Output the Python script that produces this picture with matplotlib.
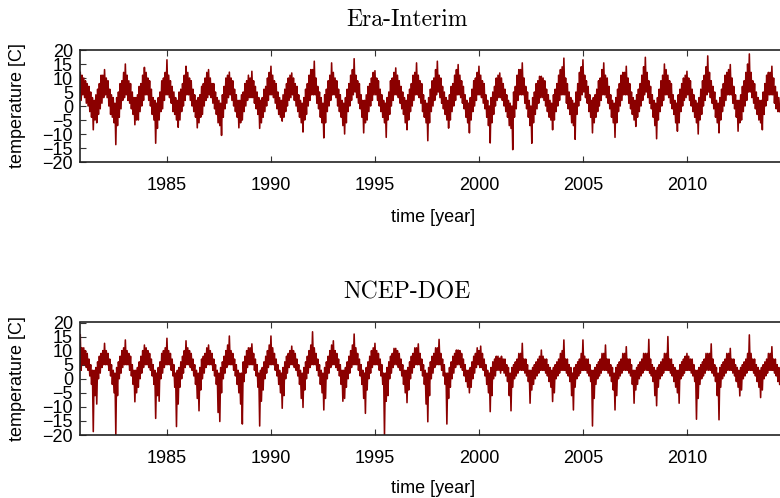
import numpy as np
import matplotlib.pyplot as plt

# monthly upper / lower envelope of the daily series, Nov 1980 .. Jun 2014
era_hi = [
    12, 11,                                            # 1980 Nov-Dec
    10, 9, 8, 7, 5, 3, 2, 4, 6, 8, 11, 11,             # 1981
    13, 10, 9, 6, 4, 3, 1, 3, 5, 8, 9, 12,             # 1982
    15, 11, 9, 8, 5, 3, 3, 4, 7, 8, 11, 13.8,          # 1983
    12, 10, 9, 6, 3, 2, 1, 3, 5, 9, 10, 12,            # 1984
    16.5, 11, 9, 7, 5, 3, 2, 5, 6, 8, 11, 14.2,        # 1985
    12, 10, 9, 6, 4, 2, 3, 4, 7, 8, 10, 12,            # 1986
    13, 10, 8, 8, 5, 3, 2, 1, 4, 7, 10, 11,            # 1987
    12.1, 10, 9, 6, 4, 2, 2, 4, 5, 8, 9, 11,           # 1988
    10, 12.4, 9, 7, 5, 3, 2, 3, 6, 7, 10, 12,          # 1989
    14.2, 11, 9, 8, 5, 3, 2, 4, 6, 8, 10, 11,          # 1990
    11.8, 10, 8, 7, 4, 2, 1, 3, 6, 8, 11, 13,          # 1991
    13, 16, 10, 7, 5, 3, 1, 4, 6, 9, 11, 15.4,         # 1992
    12, 10, 9, 6, 4, 2, 1, 3, 6, 8, 11, 13,            # 1993
    16.9, 11, 9, 8, 4, 2, 2, 4, 7, 8, 10, 12,          # 1994
    12.6, 10, 9, 6, 4, 2, 1, 3, 5, 9, 10, 12,          # 1995
    13.6, 11, 9, 7, 5, 3, 2, 4, 6, 8, 11, 12,          # 1996
    15.4, 11, 9, 8, 4, 2, 1, 3, 6, 9, 10, 13,          # 1997
    16, 11, 10, 7, 5, 3, 2, 4, 7, 8, 11, 13,           # 1998
    14.8, 11, 9, 7, 4, 2, 1, 3, 6, 9, 10, 12,          # 1999
    14.2, 11, 9, 8, 4, 2, 0, 3, 5, 7, 10, 11,          # 2000
    11.8, 10, 8, 6, 4, 2, 1, 0, 5, 7, 11, 13,          # 2001
    13, 15.4, 10, 7, 5, 2, 0, 3, 5, 8, 9, 10.6,        # 2002
    10.6, 10, 9, 6, 4, 2, 1, 4, 6, 8, 11, 13,          # 2003
    14, 17.1, 10, 8, 5, 3, 2, 1, 5, 8, 12, 14,         # 2004
    16.5, 11, 9, 7, 4, 2, 3, 4, 6, 9, 10, 13,          # 2005
    15.4, 11, 10, 7, 4, 2, 1, 3, 6, 8, 11, 12,         # 2006
    12, 14.2, 10, 8, 5, 3, 2, 4, 6, 8, 11, 14,         # 2007
    17.4, 12, 9, 7, 4, 2, 1, 3, 6, 9, 11, 15,          # 2008
    13, 11, 9, 8, 4, 2, 1, 4, 6, 8, 10, 11,            # 2009
    12.4, 10, 9, 6, 4, 2, 1, 3, 6, 9, 11, 14,          # 2010
    17.9, 12, 9, 7, 5, 2, 1, 3, 6, 8, 11, 12,          # 2011
    13, 14.8, 10, 7, 4, 2, 2, 4, 7, 9, 12, 15,         # 2012
    18.6, 12, 9, 8, 5, 3, 2, 2, 5, 8, 11, 12,          # 2013
    12, 14.2, 10, 7, 5, 3,                             # 2014 Jan-Jun
]
era_lo = [
    2, 4,
    3, 1, 0, -2, -4, -8.5, -5, -6, -3, -1, 1, 3,
    4, 3, 0, -3, -4, -6, -13.8, -7, -4, -1, 2, 3,
    4, 2, 1, -1, -3, -6.7, -5, -5, -2, 0, 2, 4,
    4, 2, 0, -3, -5, -13.3, -8, -5, -2, -1, 2, 4,
    4, 3, 1, -2, -3, -5, -7.6, -5, -2, 0, 2, 4,
    4, 2, 0, -2, -4, -7.8, -6, -4, -3, 0, 2, 3,
    4, 3, 1, -1, -3, -6, -7, -10.5, -4, -1, 1, 3,
    4, 2, 0, -2, -4, -7.8, -6, -5, -2, 0, 2, 3,
    3, 3, 1, -1, -3, -8, -6, -4, -2, 0, 2, 4,
    4, 3, 1, -1, -3, -4, -5.4, -4, -2, 0, 2, 3,
    4, 2, 0, -2, -4, -6, -9.3, -5, -3, 0, 2, 4,
    4, 4, 1, -1, -4, -6, -11.4, -6, -2, 0, 2, 4,
    4, 3, 0, -2, -4, -7, -10, -6, -2, 0, 2, 4,
    5, 3, 1, -1, -4, -9.6, -6, -5, -2, 0, 2, 4,
    4, 2, 0, -2, -4, -6, -11.2, -5, -3, 0, 2, 4,
    4, 3, 1, -1, -3, -6, -8.5, -5, -2, 0, 2, 4,
    4, 3, 1, -2, -4, -6, -12.4, -6, -2, 0, 2, 4,
    5, 3, 1, -1, -3, -5, -7.9, -5, -2, 0, 2, 4,
    4, 3, 1, -1, -4, -6, -9.6, -5, -2, 0, 2, 4,
    4, 3, 1, -1, -4, -7, -13.2, -6, -3, 0, 2, 3,
    3, 2, 0, -2, -4, -7, -8, -15.6, -4, -1, 2, 4,
    4, 4, 1, -1, -4, -7, -13.3, -6, -3, -1, 1, 3,
    3, 2, 0, -2, -4, -5, -8.5, -5, -2, 0, 2, 4,
    4, 4, 1, -1, -3, -6, -7, -11.9, -3, 0, 2, 4,
    5, 3, 1, -2, -4, -9.6, -6, -4, -2, 0, 2, 4,
    4, 3, 1, -1, -4, -6, -11.2, -6, -2, 0, 2, 4,
    4, 4, 1, -1, -3, -5, -7.3, -4, -2, 0, 2, 4,
    5, 3, 1, -1, -4, -7, -11.7, -5, -2, 0, 2, 4,
    4, 3, 1, -1, -3, -6, -9, -6, -2, 0, 2, 3,
    4, 2, 0, -2, -4, -6, -10, -5, -3, 0, 2, 4,
    5, 3, 1, -1, -4, -6, -9.6, -5, -2, 0, 2, 4,
    4, 4, 1, -1, -4, -9, -6, -5, -2, 0, 2, 5,
    5, 3, 1, -1, -3, -5, -6, -8.5, -3, 0, 2, 4,
    4, 4, 1, -1, -2, -2,
]

ncep_hi = [
    15.6, 11,
    11, 10, 9, 7, 5, 3, 3, 4, 6, 8, 9, 10,
    12.6, 10, 9, 7, 5, 3, 2, 4, 6, 8, 10, 11,
    13.8, 10, 9, 8, 5, 3, 3, 4, 6, 8, 10, 12,
    11, 10, 9, 7, 5, 3, 2, 4, 6, 9, 10, 11,
    14.4, 10, 9, 7, 5, 2, 3, 4, 6, 8, 10, 13.5,
    11, 10, 9, 7, 5, 3, 2, 4, 7, 8, 9, 11,
    12, 10, 9, 7, 5, 3, 2, 4, 6, 8, 10, 12,
    15.2, 10, 9, 7, 5, 3, 2, 2, 6, 8, 10, 11,
    11, 12.4, 9, 7, 5, 2, 3, 4, 6, 8, 10, 12,
    15.2, 11, 9, 7, 5, 3, 2, 4, 6, 8, 9, 10,
    11.6, 10, 9, 7, 5, 3, 2, 4, 6, 8, 10, 12,
    16.7, 11, 9, 7, 5, 3, 2, 4, 6, 8, 10, 12,
    13.5, 10, 9, 7, 5, 3, 3, 4, 6, 8, 10, 12,
    15.9, 11, 9, 7, 5, 3, 2, 4, 6, 8, 10, 11,
    12.6, 10, 9, 7, 5, 2, 2, 4, 6, 8, 9, 10.8,
    10.8, 10, 9, 7, 5, 3, 3, 4, 6, 8, 9, 11,
    11, 12.4, 9, 7, 5, 3, 2, 4, 6, 8, 9, 11,
    11, 14, 9, 7, 5, 2, 2, 4, 6, 8, 9, 10.2,
    10.2, 10, 9, 7, 5, 3, 3, 4, 6, 8, 9, 11,
    10, 11.6, 9, 7, 5, 3, 2, 4, 6, 7, 8, 8,
    7.3, 8, 7, 7, 5, 4, 2, 4, 5, 6, 7, 9,
    9, 12.6, 7, 7, 5, 3, 3, 4, 5, 6, 7, 8,
    10.2, 8, 7, 7, 5, 4, 3, 4, 5, 6, 7, 9,
    10, 13.8, 7, 7, 5, 4, 2, 4, 5, 6, 7, 9,
    13.8, 8, 7, 7, 5, 3, 3, 4, 5, 6, 7, 9,
    9, 12, 7, 7, 5, 4, 2, 4, 5, 6, 7, 9,
    9, 11.4, 7, 7, 5, 3, 3, 4, 5, 6, 7, 9,
    9, 9, 14, 7, 5, 4, 3, 4, 5, 6, 7, 9,
    9, 15, 7, 7, 5, 4, 3, 3, 5, 6, 7, 8,
    9, 8, 7, 7, 5, 3, 3, 4, 5, 6, 7, 9,
    9, 9, 12.4, 7, 5, 4, 2, 4, 5, 6, 7, 9,
    9, 10.8, 7, 7, 5, 4, 3, 4, 5, 6, 7, 9,
    15.6, 9, 7, 7, 5, 4, 3, 4, 5, 6, 7, 9,
    9, 11.4, 7, 7, 5, 4,
]
ncep_lo = [
    3, 5,
    5, 4, 3, 1, -2, -18.8, -6, -9, 0, 2, 4, 5,
    5, 5, 3, 1, -2, -5, -19.8, -6, 0, 2, 4, 5,
    5, 5, 3, 1, -2, -8.2, -5, -3, 0, 2, 4, 5,
    5, 4, 3, 1, -2, -14.1, -6, -8, 0, 2, 4, 5,
    5, 5, 3, 1, -3, -17, -9, -3, 0, 2, 4, 5,
    5, 4, 3, 1, -2, -7, -11.4, -4, 0, 2, 4, 5,
    5, 5, 3, 1, -2, -12, -15.2, -5, 0, 2, 4, 5,
    5, 5, 3, 1, -2, -5, -9, -16.1, -1, 2, 4, 5,
    5, 5, 3, 1, -3, -16.8, -8, -4, 0, 2, 4, 5,
    5, 5, 3, 1, -2, -5, -10.5, -6, 0, 2, 4, 5,
    5, 4, 3, 1, -2, -7, -10.2, -4, 0, 2, 4, 5,
    5, 5, 3, 1, -2, -5, -11.1, -7, 0, 2, 4, 5,
    5, 4, 3, 1, -2, -8, -7, -3, 0, 2, 4, 5,
    5, 5, 3, 1, -2, -7, -12.3, -4, 0, 2, 4, 5,
    5, 5, 3, 1, -2, -20, -8, -6, 0, 2, 4, 5,
    5, 4, 3, 1, -2, -5, -8.5, -4, 0, 2, 4, 5,
    5, 5, 3, 1, -2, -9, -15.3, -6, 0, 2, 4, 5,
    5, 5, 3, 1, -2, -16.1, -7, -3, 0, 2, 4, 5,
    5, 4, 3, 1, -1, -3, -5, -3, 0, 2, 4, 5,
    4, 4, 3, 1, -2, -5, -11.7, -6, 0, 1, 3, 3,
    2, 3, 2, 1, -1, -6, -11.4, -3, 0, 1, 2, 3,
    3, 3, 2, 1, -1, -8.7, -4, -2, 0, 1, 2, 3,
    3, 3, 2, 1, -1, -3, -8.1, -5, 0, 1, 2, 3,
    3, 3, 2, 1, -1, -6, -11.1, -3, 0, 1, 2, 3,
    3, 3, 2, 1, -1, -16.8, -7, -2, 0, 1, 2, 3,
    3, 3, 2, 1, -1, -4, -11.1, -6, 0, 1, 2, 3,
    3, 3, 2, 1, -2, -8.7, -4, -2, 0, 1, 2, 3,
    3, 3, 2, 1, -1, -6, -9.6, -3, 0, 1, 2, 3,
    3, 3, 2, 1, -1, -3, -5, -8.7, 0, 1, 2, 3,
    3, 3, 2, 1, -1, -14.4, -7, -2, 0, 1, 2, 3,
    3, 3, 2, 1, -1, -6, -14.6, -3, 0, 1, 2, 3,
    3, 3, 2, 1, -1, -3, -6.1, -4, 0, 1, 2, 3,
    3, 3, 2, 1, -1, -3, -6.7, -4, 0, 1, 2, 3,
    3, 3, 2, 1, -1, -2,
]

year_ticks = [1985, 1990, 1995, 2000, 2005, 2010]
temp_ticks = [20, 15, 10, 5, 0, -5, -10, -15, -20]

line_color = '#8b0000'
plt.rcParams['font.family'] = ['Liberation Sans', 'DejaVu Sans']


def zigzag(hi, lo):
    # alternate monthly high and low so the line fills the daily spread
    months = 1980 + 10 / 12 + np.arange(len(hi)) / 12
    x = np.empty(2 * len(hi))
    y = np.empty(2 * len(hi))
    x[0::2] = months
    x[1::2] = months + 1 / 24
    y[0::2] = hi
    y[1::2] = lo
    return x, y


fig = plt.figure(figsize=(7.8, 4.98), dpi=100)
W, H = 780, 498

panels = [
    ('Era-Interim', era_hi, era_lo, 50, 162, 20, 218),
    ('NCEP-DOE', ncep_hi, ncep_lo, 322.5, 435, 292, 488),
]

for title, hi, lo, top, bottom, title_y, xlabel_y in panels:
    ax = fig.add_axes([80 / W, 1 - bottom / H, 720 / W, (bottom - top) / H])
    x, y = zigzag(hi, lo)
    ax.plot(x, y, color=line_color, lw=1.15)
    ax.set_xlim(1980.82, 1980.82 + 720 / 20.8)
    ax.set_ylim(-20, 20)
    ax.set_xticks(year_ticks)
    ax.set_yticks(temp_ticks)
    ax.tick_params(direction='in', length=4, width=0.8, labelsize=13,
                   top=True, right=True, color='#333333')
    ax.tick_params(axis='x', pad=11)
    ax.tick_params(axis='y', pad=5)
    for s in ax.spines.values():
        s.set_linewidth(1.2)
        s.set_color('#222222')

    fig.text(407 / W, 1 - title_y / H, title, family='cmr10', fontsize=17,
             ha='center', va='center')
    fig.text(433 / W, 1 - xlabel_y / H, 'time [year]', fontsize=13,
             ha='center', va='center')
    fig.text(18 / W, 1 - (top + bottom) / 2 / H, 'temperature [C]',
             fontsize=13, rotation=90, ha='center', va='center')

fig.savefig('out.png', dpi=100)
